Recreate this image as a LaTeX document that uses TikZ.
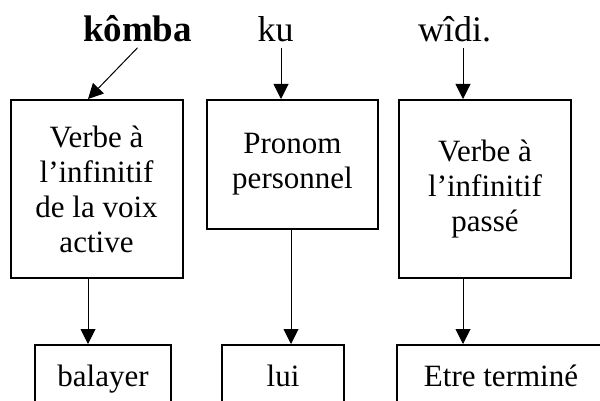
\documentclass[tikz,border=0pt]{standalone}
\usepackage{fontspec}
\setmainfont{Liberation Serif}
\usetikzlibrary{arrows.meta}
\tikzset{>={Triangle[length=7.5pt,width=7.5pt]}}
\tikzstyle{mot}=[inner sep=2.5pt,anchor=base,font=\fontsize{18}{21}\selectfont]
\tikzstyle{motgras}=[mot,font=\fontsize{18.5}{21}\selectfont\bfseries]
\tikzstyle{boite}=[draw,line width=1pt,align=center,inner sep=0pt,font=\fontsize{15.5}{17.5}\selectfont]
\tikzstyle{sens}=[boite,anchor=north,text height=20.5pt,text depth=20pt]
\tikzstyle{fleche}=[->,line width=0.5pt]

\begin{document}
\begin{tikzpicture}[x=0.5pt,y=-0.5pt]
  \useasboundingbox (0,0) rectangle (600,401);
  \clip (0,0) rectangle (600,401);

  \coordinate (A1) at ( 88, 0); % ARROW 1
  \coordinate (A2) at (281, 0); % ARROW 2 (TOP)
  \coordinate (B2) at (291, 0); % ARROW 2 (BOTTOM)
  \coordinate (A3) at (463, 0); % ARROW 3

  % WORDS
  \node[motgras] (komba) at (137.5,42) {kômba};
  \node[mot]     (ku)    at (275.5,42) {ku};
  \node[mot]     (widi)  at (454.5,42) {wîdi.};

  % CATEGORIES
  \node[boite,minimum width=86pt,minimum height=89pt]     (verbe)  at (96.5,189)   {Verbe à\\l’infinitif\\de la voix\\active};
  \node[boite,minimum width=85.5pt,minimum height=64.5pt] (pronom) at (292.5,164.5) {Pronom\\personnel};
  \node[boite,minimum width=86pt,minimum height=89pt]     (passe)  at (485,189)    {Verbe à\\l’infinitif\\passé};

  % MEANINGS
  \node[sens,minimum width=68pt]  (balayer) at (103,344) {balayer};
  \node[sens,minimum width=61pt]  (lui)     at (283,344) {lui};
  \node[sens,minimum width=104pt] (termine) at (501,344) {Etre terminé};

  % ARROWS
  \draw[fleche] (komba.south) -- (verbe.north -| A1);
  \draw[fleche] (ku.south -| A2) -- (pronom.north -| A2);
  \draw[fleche] (widi.south -| A3) -- (passe.north -| A3);
  \draw[fleche] (verbe.south -| A1) -- (balayer.north -| A1);
  \draw[fleche] (pronom.south -| B2) -- (lui.north -| B2);
  \draw[fleche] (passe.south -| A3) -- (termine.north -| A3);
\end{tikzpicture}
\end{document}
